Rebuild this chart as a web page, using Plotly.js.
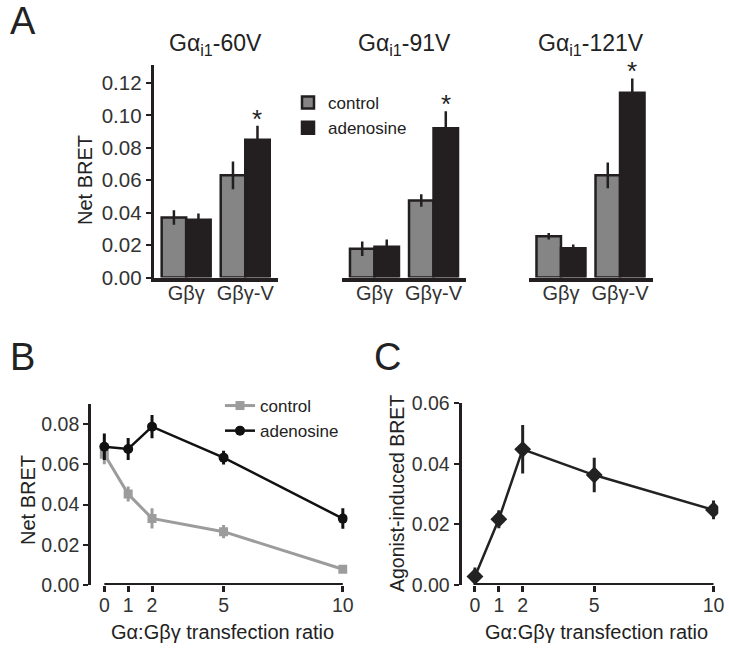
<!DOCTYPE html>
<html>
<head>
<meta charset="utf-8">
<script src="https://cdn.plot.ly/plotly-3.0.1.min.js"></script>
<style>html,body{margin:0;padding:0;background:#fff;}#chart{width:729px;height:650px;}</style>
</head>
<body>
<div id="chart"></div>
<script>
// ---------- Panel A data ----------
const catsA = ['Gβγ', 'Gβγ-V'];
const groupTitles = ['Gα<sub>i1</sub>-60V', 'Gα<sub>i1</sub>-91V', 'Gα<sub>i1</sub>-121V'];
const ctrl60V = [0.037, 0.063];
const ctrl60VErr = [0.0045, 0.0085];
const aden60V = [0.0356, 0.085];
const aden60VErr = [0.0039, 0.0086];
const ctrl91V = [0.0177, 0.0475];
const ctrl91VErr = [0.0045, 0.0039];
const aden91V = [0.0189, 0.092];
const aden91VErr = [0.0045, 0.0105];
const ctrl121V = [0.0255, 0.063];
const ctrl121VErr = [0.002, 0.008];
const aden121V = [0.0181, 0.114];
const aden121VErr = [0.0023, 0.0088];
const yTicksA = [0, 0.02, 0.04, 0.06, 0.08, 0.10, 0.12];

// ---------- Panel B data ----------
const ratio = [0, 1, 2, 5, 10];
const ctrlB = [0.065, 0.0452, 0.0331, 0.0265, 0.0078];
const ctrlBErr = [0.005, 0.0037, 0.005, 0.0033, 0.0015];
const adenB = [0.0687, 0.0676, 0.0787, 0.0633, 0.033];
const adenBErr = [0.0066, 0.0055, 0.0058, 0.0034, 0.0051];
const yTicksB = [0, 0.02, 0.04, 0.06, 0.08];

// ---------- Panel C data ----------
const agonistC = [0.0028, 0.0217, 0.0448, 0.0363, 0.0248];
const agonistCErr = [0.003, 0.003, 0.008, 0.0057, 0.0031];
const yTicksC = [0, 0.02, 0.04, 0.06];

const FONT = 'Arial, "Liberation Sans", Helvetica, sans-serif';
const GRAY = '#858585';
const BLACK = '#231f20';
const LGRAY = '#9c9c9c';
const W = 729, H = 650;
const px = v => v / W;
const py = v => 1 - v / H;

const groups = [
  {ctrl: ctrl60V, ctrlErr: ctrl60VErr, aden: aden60V, adenErr: aden60VErr, xa: 'x'},
  {ctrl: ctrl91V, ctrlErr: ctrl91VErr, aden: aden91V, adenErr: aden91VErr, xa: 'x2'},
  {ctrl: ctrl121V, ctrlErr: ctrl121VErr, aden: aden121V, adenErr: aden121VErr, xa: 'x3'}
];

const traces = [];
groups.forEach((g, i) => {
  traces.push({
    type: 'bar', x: catsA, y: g.ctrl, name: 'control', xaxis: g.xa, yaxis: 'y',
    legendgroup: 'ctrlA', showlegend: i === 0, legend: 'legend',
    marker: {color: GRAY, line: {color: BLACK, width: 2.5}},
    error_y: {type: 'data', array: g.ctrlErr, visible: true, color: BLACK, thickness: 2.5, width: 0}
  });
  traces.push({
    type: 'bar', x: catsA, y: g.aden, name: 'adenosine', xaxis: g.xa, yaxis: 'y',
    legendgroup: 'adenA', showlegend: i === 0, legend: 'legend',
    marker: {color: BLACK, line: {color: BLACK, width: 2.5}},
    error_y: {type: 'data', array: g.adenErr, visible: true, color: BLACK, thickness: 2.5, width: 0}
  });
});

traces.push({
  type: 'scatter', mode: 'lines+markers', x: ratio, y: ctrlB, name: 'control',
  xaxis: 'x4', yaxis: 'y4', legend: 'legend2',
  line: {color: LGRAY, width: 3},
  marker: {symbol: 'square', size: 9, color: LGRAY},
  error_y: {type: 'data', array: ctrlBErr, visible: true, color: LGRAY, thickness: 3, width: 0}
});
traces.push({
  type: 'scatter', mode: 'lines+markers', x: ratio, y: adenB, name: 'adenosine',
  xaxis: 'x4', yaxis: 'y4', legend: 'legend2',
  line: {color: '#111', width: 2.5},
  marker: {symbol: 'circle', size: 10, color: '#111'},
  error_y: {type: 'data', array: adenBErr, visible: true, color: '#111', thickness: 3, width: 0}
});
traces.push({
  type: 'scatter', mode: 'lines+markers', x: ratio, y: agonistC, name: 'agonist',
  xaxis: 'x5', yaxis: 'y5', showlegend: false,
  line: {color: '#222', width: 2.5},
  marker: {symbol: 'diamond', size: 13, color: '#222'},
  error_y: {type: 'data', array: agonistCErr, visible: true, color: '#222', thickness: 3, width: 0}
});

const catAxis = (dom) => ({
  domain: dom, type: 'category', range: [-0.55, 1.55], anchor: 'y',
  showline: true, linewidth: 4, linecolor: BLACK, ticks: '', showgrid: false, zeroline: false,
  ticklabelstandoff: -6,
  tickfont: {family: FONT, size: 20, color: '#333'}, fixedrange: true
});

const numXAxis = (dom, rng, anchor) => ({
  domain: dom, range: rng, anchor: anchor, tickvals: ratio, ticktext: ratio.map(String),
  showline: false, ticks: 'outside', ticklen: 6, tickwidth: 3, tickcolor: BLACK,
  ticklabelstandoff: -3,
  showgrid: false, zeroline: false, tickfont: {family: FONT, size: 19.5, color: '#333'}
});

const numYAxis = (dom, rng, anchor, tv, fs) => ({
  domain: dom, range: rng, anchor: anchor, tickvals: tv, tickformat: '.2f',
  showline: true, linewidth: 3, linecolor: BLACK, ticks: 'outside', ticklen: 5, tickwidth: 2,
  tickcolor: BLACK, showgrid: false, zeroline: false,
  tickfont: {family: FONT, size: fs, color: '#333'}
});

const annotations = [];
const txt = (text, x, y, size, opts) => Object.assign({
  text: text, x: x, y: y, xref: 'paper', yref: 'paper', showarrow: false,
  font: {family: FONT, size: size, color: '#222'}, xanchor: 'center', yanchor: 'middle'
}, opts || {});

annotations.push(txt('A', px(8), py(21), 38, {xanchor: 'left'}));
annotations.push(txt('B', px(8), py(357), 38, {xanchor: 'left'}));
annotations.push(txt('C', px(372), py(357), 38, {xanchor: 'left'}));

['x', 'x2', 'x3'].forEach((xa, i) => {
  annotations.push({
    text: groupTitles[i], xref: xa + ' domain', x: 0.5, yref: 'paper', y: py(45),
    showarrow: false, xanchor: 'center', yanchor: 'middle',
    font: {family: FONT, size: 23, color: '#222'}
  });
  const g = groups[i];
  annotations.push({
    text: '*', xref: xa, x: catsA[1], yref: 'y', y: g.aden[1] + g.adenErr[1],
    xshift: 12, yshift: -10, showarrow: false, xanchor: 'center', yanchor: 'bottom',
    font: {family: FONT, size: 26, color: '#222'}
  });
});

annotations.push(txt('Net BRET', px(85), py(180), 20, {textangle: -90}));
annotations.push(txt('Net BRET', px(28), py(500), 20, {textangle: -90}));
annotations.push(txt('Agonist-induced BRET', px(397), py(494), 19.5, {textangle: -90}));
annotations.push(txt('Gα:Gβγ transfection ratio', px(222.5), py(632), 20));
annotations.push(txt('Gα:Gβγ transfection ratio', px(596), py(632), 20));

const shapes = [
  {type: 'line', xref: 'x4', yref: 'y4', x0: ratio[0], x1: ratio[ratio.length - 1], y0: 0, y1: 0,
   line: {color: BLACK, width: 4}},
  {type: 'line', xref: 'x5', yref: 'y5', x0: ratio[0], x1: ratio[ratio.length - 1], y0: 0, y1: 0,
   line: {color: BLACK, width: 4}}
];

const layout = {
  width: W, height: H,
  margin: {l: 0, r: 0, t: 0, b: 0},
  paper_bgcolor: '#fff', plot_bgcolor: 'rgba(0,0,0,0)',
  font: {family: FONT, color: '#222'},
  barmode: 'group', bargap: 0.17, bargroupgap: 0,
  xaxis: catAxis([px(153.7), px(277.7)]),
  xaxis2: catAxis([px(342), px(466)]),
  xaxis3: catAxis([px(528.5), px(652.5)]),
  yaxis: numYAxis([py(277.5), py(65.1)], [0, 0.131], 'x', yTicksA, 20.5),
  xaxis4: numXAxis([px(91.2), px(347.6)], [-0.55, 10.2], 'y4'),
  yaxis4: numYAxis([py(585), py(403.9)], [0, 0.09], 'x4', yTicksB, 19.5),
  xaxis5: numXAxis([px(461.6), px(718.3)], [-0.56, 10.2], 'y5'),
  yaxis5: numYAxis([py(585), py(403.3)], [0, 0.06], 'x5', yTicksC, 19.5),
  legend: {x: px(288), y: py(85), xanchor: 'left', yanchor: 'top', bgcolor: 'rgba(0,0,0,0)',
           font: {family: FONT, size: 17, color: '#222'}, tracegroupgap: 0, traceorder: 'normal'},
  legend2: {x: px(220), y: py(388), xanchor: 'left', yanchor: 'top', bgcolor: 'rgba(0,0,0,0)',
            font: {family: FONT, size: 17, color: '#222'}, tracegroupgap: 0, traceorder: 'normal'},
  annotations: annotations,
  shapes: shapes
};

Plotly.newPlot('chart', traces, layout, {displayModeBar: false, staticPlot: true});
</script>
</body>
</html>
